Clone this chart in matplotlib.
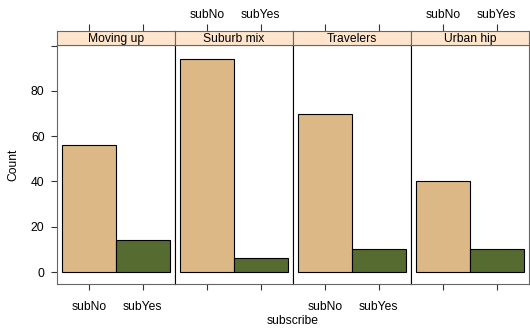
import matplotlib
matplotlib.use("Agg")
import matplotlib.pyplot as plt

panels = ["Moving up", "Suburb mix", "Travelers", "Urban hip"]
levels = ["subNo", "subYes"]
sub_no = [56, 94, 70, 40]
sub_yes = [14, 6, 10, 10]
bar_colors = ["#DBB886", "#556B2F"]
yticks = [0, 20, 40, 60, 80]

W, H = 530, 328
fig = plt.figure(figsize=(W / 100, H / 100), dpi=100)
plt.rcParams["font.family"] = "Liberation Sans"

x0, x1 = 57, 529
ybot, ytop = 284, 45
strip_h = 14
pw = (x1 - x0) / len(panels)
frame = "#666666"
fs = 8.7

for i, name in enumerate(panels):
    left = (x0 + i * pw) / W
    ax = fig.add_axes([left, 1 - ybot / H, pw / W, (ybot - ytop) / H])
    vals = [sub_no[i], sub_yes[i]]
    ax.bar([1, 2], vals, width=1.0, color=bar_colors, edgecolor="black",
           linewidth=0.8)
    ax.set_xlim(0.4, 2.6)
    ax.set_ylim(-5.3, 100.3)
    for side, sp in ax.spines.items():
        sp.set_linewidth(0.8)
        sp.set_color(frame)
    if i > 0:
        ax.spines["left"].set_color("black")
    if i < len(panels) - 1:
        ax.spines["right"].set_color("black")
    ax.set_xticks([1, 2])
    ax.set_xticklabels(levels)
    ax.tick_params(axis="x", direction="out", length=4, width=0.8,
                   colors="#333333", labelsize=fs, labelcolor="black",
                   top=False, bottom=True, pad=8,
                   labelbottom=(i % 2 == 0))
    if i == 0:
        ax.set_yticks(yticks + [100])
        ax.set_yticklabels([str(v) for v in yticks] + [""])
        ax.tick_params(axis="y", direction="out", length=4, width=0.8,
                       colors="#333333", labelsize=fs, labelcolor="black",
                       pad=5)
    else:
        ax.set_yticks([])

    # strip above the panel, carrying the top axis ticks
    sax = fig.add_axes([left, 1 - ytop / H, pw / W, strip_h / H])
    sax.set_facecolor("#FFE5CC")
    sax.set_xlim(0.4, 2.6)
    sax.set_yticks([])
    sax.set_xticks([1, 2])
    sax.set_xticklabels(levels)
    sax.tick_params(axis="x", direction="out", length=5, width=0.8,
                    colors="#333333", labelsize=fs, labelcolor="black",
                    top=True, bottom=False, labelbottom=False,
                    labeltop=(i % 2 == 1), pad=2)
    for sp in sax.spines.values():
        sp.set_linewidth(0.8)
        sp.set_color(frame)
    sax.text(0.5, 0.45, name, ha="center", va="center", fontsize=fs,
             transform=sax.transAxes)

fig.text((x0 + x1) / 2 / W, 1 - 321 / H, "subscribe", ha="center",
         va="center", fontsize=fs)
fig.text(13 / W, 1 - 165 / H, "Count", ha="center", va="center",
         rotation=90, fontsize=fs)

fig.savefig("out.png", dpi=100)
